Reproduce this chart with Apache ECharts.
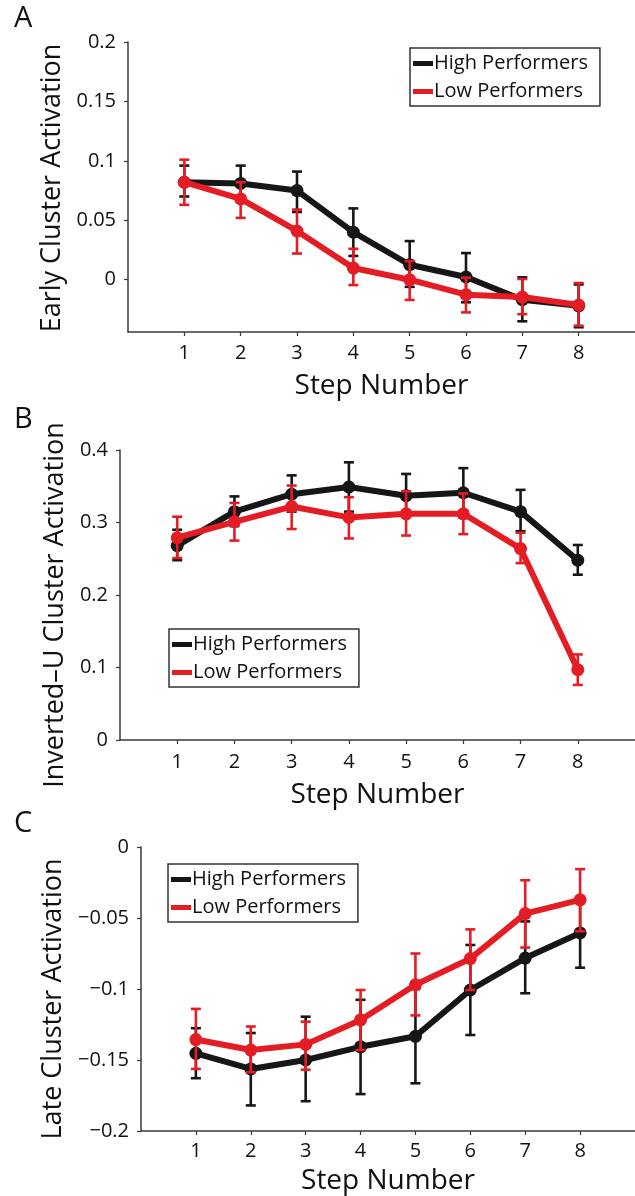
<!DOCTYPE html>
<html>
<head>
<meta charset="utf-8">
<script src="https://cdn.jsdelivr.net/npm/echarts@6/dist/echarts.min.js"></script>
<style>
html,body{margin:0;padding:0;background:#fff;}
#chart{width:635px;height:1196px;}
</style>
</head>
<body>
<div id="chart"></div>
<script>
// ---------- data ----------
const steps = [1, 2, 3, 4, 5, 6, 7, 8];
const seriesNames = ['High Performers', 'Low Performers'];

// Panel A: Early cluster
const earlyTicks = [0, 0.05, 0.1, 0.15, 0.2];
const earlyHighMean = [0.082, 0.081, 0.075, 0.040, 0.0126, 0.0023, -0.0168, -0.022];
const earlyHighLo   = [0.070, 0.066, 0.057, 0.020, -0.006, -0.019, -0.035, -0.040];
const earlyHighHi   = [0.096, 0.096, 0.091, 0.060, 0.0325, 0.0224, 0.002, -0.004];
const earlyLowMean  = [0.082, 0.068, 0.041, 0.0098, 0.0, -0.0126, -0.0146, -0.0213];
const earlyLowLo    = [0.063, 0.052, 0.022, -0.0045, -0.017, -0.0275, -0.029, -0.0387];
const earlyLowHi    = [0.101, 0.082, 0.059, 0.026, 0.0157, 0.0017, 0.0006, -0.0028];

// Panel B: Inverted-U cluster
const invTicks = [0, 0.1, 0.2, 0.3, 0.4];
const invHighMean = [0.268, 0.315, 0.339, 0.349, 0.337, 0.341, 0.315, 0.248];
const invHighLo   = [0.248, 0.295, 0.315, 0.315, 0.308, 0.307, 0.288, 0.228];
const invHighHi   = [0.290, 0.336, 0.365, 0.383, 0.367, 0.375, 0.345, 0.269];
const invLowMean  = [0.279, 0.301, 0.322, 0.307, 0.312, 0.312, 0.264, 0.097];
const invLowLo    = [0.251, 0.275, 0.291, 0.278, 0.282, 0.284, 0.244, 0.076];
const invLowHi    = [0.308, 0.327, 0.351, 0.335, 0.343, 0.340, 0.286, 0.118];

// Panel C: Late cluster
const lateTicks = [-0.2, -0.15, -0.1, -0.05, 0];
const lateHighMean = [-0.1453, -0.1563, -0.150, -0.1407, -0.1333, -0.1007, -0.0782, -0.0605];
const lateHighLo   = [-0.1628, -0.182, -0.179, -0.174, -0.1664, -0.1324, -0.103, -0.085];
const lateHighHi   = [-0.1276, -0.131, -0.1195, -0.1076, -0.100, -0.069, -0.0524, -0.036];
const lateLowMean  = [-0.1356, -0.143, -0.139, -0.1218, -0.097, -0.0786, -0.0469, -0.0372];
const lateLowLo    = [-0.1563, -0.1586, -0.1568, -0.143, -0.1186, -0.1007, -0.0708, -0.0593];
const lateLowHi    = [-0.114, -0.1264, -0.123, -0.1007, -0.075, -0.058, -0.0234, -0.0156];

// ---------- styling ----------
const FONT = '"Open Sans", "Noto Sans", sans-serif';
const BLACK = '#161616';
const RED = '#e41d25';
const AXIS = '#3a3a3a';
const TXT = '#111';

const panels = [
  { letter: 'A', yName: 'Early Cluster Activation', grid: { left: 128, top: 42, height: 290 },
    yMin: -0.044, yMax: 0.2, yTicks: earlyTicks, nameGap: 59, nameShift: 2, xNameGap: 40, xLabelMargin: 11,
    letterTop: 4, legend: { left: 410, top: 48 },
    high: [earlyHighMean, earlyHighLo, earlyHighHi], low: [earlyLowMean, earlyLowLo, earlyLowHi] },
  { letter: 'B', yName: 'Inverted\u2013U Cluster Activation', grid: { left: 120, top: 450, height: 290 },
    yMin: 0, yMax: 0.4, yTicks: invTicks, nameGap: 49, nameShift: 20, xNameGap: 41, xLabelMargin: 12,
    letterTop: 405, legend: { left: 169, top: 629 },
    high: [invHighMean, invHighLo, invHighHi], low: [invLowMean, invLowLo, invLowHi] },
  { letter: 'C', yName: 'Late Cluster Activation', grid: { left: 141, top: 847, height: 290 },
    yMin: -0.2, yMax: 0, yTicks: lateTicks, nameGap: 68, nameShift: 20, xNameGap: 36, xLabelMargin: 10,
    letterTop: 809, legend: { left: 168, top: 864 },
    high: [lateHighMean, lateHighLo, lateHighHi], low: [lateLowMean, lateLowLo, lateLowHi] }
];

function fmtTick(v) {
  if (Math.abs(v) < 1e-12) return '0';
  return (v < 0 ? '\u2212' : '') + String(Math.abs(v));
}

function errRender(color) {
  return function (params, api) {
    const x = api.value(0), lo = api.value(1), hi = api.value(2);
    const pLo = api.coord([x, lo]);
    const pHi = api.coord([x, hi]);
    const hw = 5;
    const st = { stroke: color, lineWidth: 2.6 };
    return {
      type: 'group',
      children: [
        { type: 'line', shape: { x1: pLo[0], y1: pLo[1], x2: pHi[0], y2: pHi[1] }, style: st },
        { type: 'line', shape: { x1: pHi[0] - hw, y1: pHi[1], x2: pHi[0] + hw, y2: pHi[1] }, style: st },
        { type: 'line', shape: { x1: pLo[0] - hw, y1: pLo[1], x2: pLo[0] + hw, y2: pLo[1] }, style: st }
      ]
    };
  };
}

const grids = [], xAxes = [], yAxes = [], series = [], legends = [], graphics = [];

panels.forEach((p, i) => {
  grids.push({ left: p.grid.left, top: p.grid.top, height: p.grid.height, right: 0, containLabel: false });
  xAxes.push({
    type: 'value', gridIndex: i, min: 0, max: 9,
    name: 'Step Number', nameLocation: 'middle', nameGap: p.xNameGap,
    nameTextStyle: { fontFamily: FONT, fontSize: 28, color: TXT },
    axisLine: { show: true, onZero: false, lineStyle: { color: AXIS, width: 1.5 } },
    axisTick: { show: true, inside: false, length: 4, customValues: steps, lineStyle: { color: AXIS, width: 1.2 } },
    axisLabel: { customValues: steps, margin: p.xLabelMargin, fontFamily: FONT, fontSize: 20, color: TXT },
    splitLine: { show: false }
  });
  yAxes.push({
    type: 'value', gridIndex: i, min: p.yMin, max: p.yMax,
    name: p.yName, nameLocation: 'middle', nameGap: p.nameGap,
    nameTextStyle: { fontFamily: FONT, fontSize: 27, color: TXT, padding: [0, p.nameShift, 0, 0] },
    axisLine: { show: true, onZero: false, lineStyle: { color: AXIS, width: 1.5 } },
    axisTick: { show: true, inside: false, length: 4, customValues: p.yTicks, lineStyle: { color: AXIS, width: 1.2 } },
    axisLabel: { customValues: p.yTicks, margin: 12, fontFamily: FONT, fontSize: 20, color: TXT, formatter: fmtTick },
    splitLine: { show: false }
  });

  const groups = [[p.high, BLACK, seriesNames[0], 1], [p.low, RED, seriesNames[1], 3]];
  groups.forEach(([arr, color, name, z]) => {
    series.push({
      type: 'custom', name: name + ' error', xAxisIndex: i, yAxisIndex: i, z: z,
      renderItem: errRender(color), silent: true,
      data: steps.map((s, k) => [s, arr[1][k], arr[2][k]])
    });
    series.push({
      type: 'line', name: name, xAxisIndex: i, yAxisIndex: i, z: z + 1,
      data: steps.map((s, k) => [s, arr[0][k]]),
      symbol: 'circle', symbolSize: 13, showSymbol: true,
      lineStyle: { color: color, width: 6 },
      itemStyle: { color: color },
      animation: false
    });
  });

  legends.push({
    data: seriesNames, left: p.legend.left, top: p.legend.top, orient: 'vertical',
    icon: 'rect', itemWidth: 20, itemHeight: 5, itemGap: 5,
    padding: [4, 12, 3, 3],
    borderColor: '#333', borderWidth: 1.5, backgroundColor: '#fff',
    textStyle: { fontFamily: FONT, fontSize: 20, color: TXT, lineHeight: 23, padding: [0, 0, 0, -4] },
    selectedMode: false
  });

  graphics.push({
    type: 'text', left: 14, top: p.letterTop,
    style: { text: p.letter, fontFamily: FONT, fontSize: 29, fill: TXT }
  });
});

const chart = echarts.init(document.getElementById('chart'), null, { renderer: 'canvas' });
chart.setOption({
  animation: false,
  backgroundColor: '#fff',
  grid: grids, xAxis: xAxes, yAxis: yAxes, series: series, legend: legends, graphic: graphics
});
</script>
</body>
</html>
